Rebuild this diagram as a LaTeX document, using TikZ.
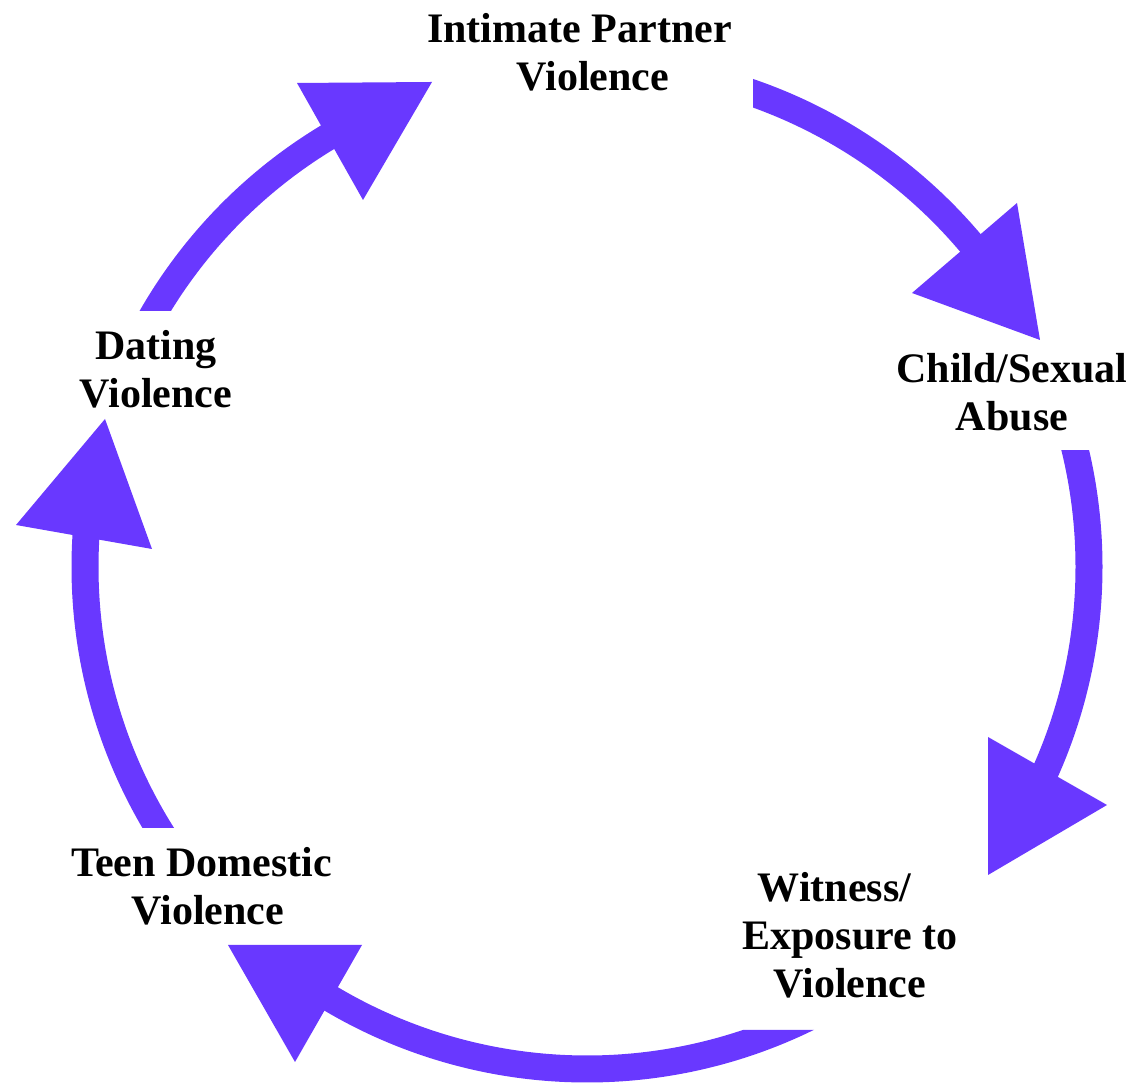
\documentclass[tikz,border=0pt]{standalone}
\usepackage{fontspec}
\setmainfont{Liberation Serif}
\definecolor{cyc}{RGB}{105,56,255}
\tikzset{
  arcline/.style={draw=cyc, line width=27pt},
  head/.style={fill=cyc, draw=none},
  lbl/.style={font=\bfseries\fontsize{42}{48}\selectfont, align=center, inner sep=0pt, anchor=base}
}
\begin{document}
\begin{tikzpicture}[x=1pt,y=1pt]
\useasboundingbox (0,0) rectangle (1135,1086);
\coordinate (c) at (587,519);

% labels (base anchor = baseline of last line)
\node[lbl] (ipv) at (593,995) {Intimate Partner\hspace*{27pt}\\Violence};
\node[lbl] (dat) at (156,678) {Dating\\Violence};
\node[lbl] (csa) at (1012,655) {Child/Sexual\\Abuse};
\node[lbl] (tdv) at (208,161) {Teen Domestic\hspace*{13pt}\\Violence};
\node[lbl] (wit) at (850,88) {Witness/\hspace*{31pt}\\Exposure to\hspace*{9pt}\\Violence};

% arc 1: IPV -> CSA
\begin{scope}
\clip (753,0) rectangle (1135,1086);
\draw[arcline] ([shift={(75:502pt)}]c) arc[start angle=75, end angle=38, radius=502pt];
\end{scope}
\fill[head] (912,793) -- (1017,883) -- (1040,746) -- cycle;

% arc 2: CSA -> Witness
\begin{scope}
\clip (0,0) rectangle (1135,635);
\draw[arcline] ([shift={(18:502pt)}]c) arc[start angle=18, end angle=-26, radius=502pt];
\end{scope}
\fill[head] (988,349) -- (1107,281) -- (988,211) -- cycle;

% arc 3: Witness -> TDV
\begin{scope}
\clip (0,0) -- (1135,0) -- (1135,56) -- (587,56) -- (587,1086) -- (0,1086) -- cycle;
\draw[arcline] ([shift={(-62:502pt)}]c) arc[start angle=-62, end angle=-123, radius=502pt];
\end{scope}
\fill[head] (362,141) -- (295,24) -- (228,141) -- cycle;

% arc 4: TDV -> Dating
\begin{scope}
\clip (0,258) rectangle (1135,1086);
\draw[arcline] ([shift={(215:502pt)}]c) arc[start angle=215, end angle=174, radius=502pt];
\end{scope}
\fill[head] (16,561) -- (105,667) -- (152,537) -- cycle;

% arc 5: Dating -> IPV
\begin{scope}
\clip (0,775) rectangle (1135,1086);
\draw[arcline] ([shift={(153:502pt)}]c) arc[start angle=153, end angle=119, radius=502pt];
\end{scope}
\fill[head] (297,1003) -- (432,1004) -- (363,886) -- cycle;
\end{tikzpicture}
\end{document}
